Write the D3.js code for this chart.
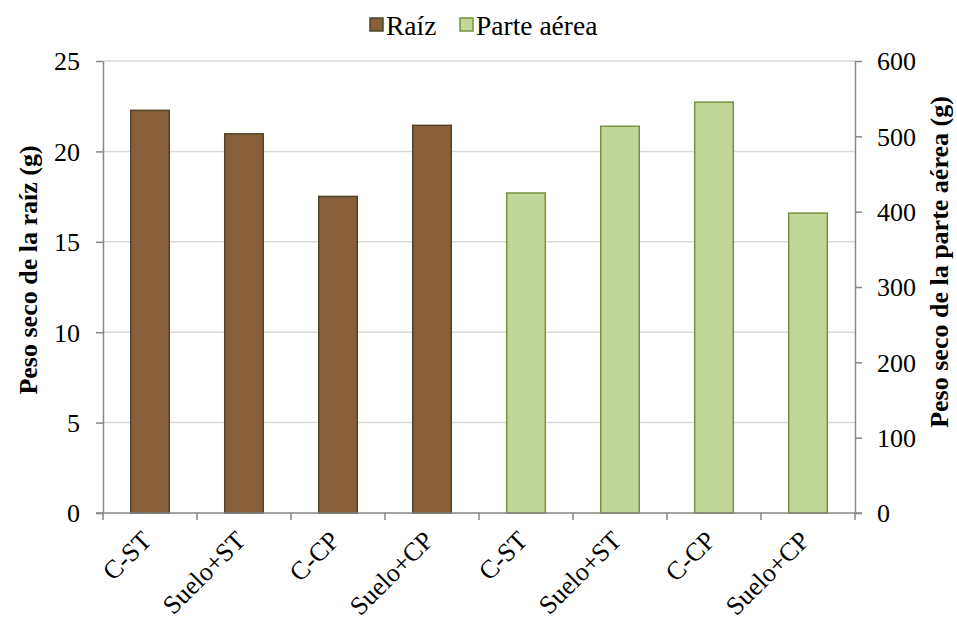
<!DOCTYPE html>
<html>
<head>
<meta charset="utf-8">
<script src="https://cdn.jsdelivr.net/npm/d3@7"></script>
</head>
<body style="margin:0; background:#fff">
<svg id="chart" width="957" height="620" style="display:block"></svg>
<script>
// Dry weight per treatment: root (left axis) and shoot (right axis)
const categories = ["C-ST", "Suelo+ST", "C-CP", "Suelo+CP", "C-ST", "Suelo+ST", "C-CP", "Suelo+CP"];
const rootValues = [22.27, 20.97, 17.51, 21.44];
const shootValues = [424.8, 513.4, 545.4, 398.1];
const leftTicks = [0, 5, 10, 15, 20, 25];
const rightTicks = [0, 100, 200, 300, 400, 500, 600];
const seriesNames = ["Raíz", "Parte aérea"];

const FONT = '"Liberation Serif"';
const FS = "26px";

const svg = d3.select("#chart").attr("font-family", "Liberation Serif").style("font-family", FONT);
const plotLeft = 103, plotRight = 855, plotTop = 61, plotBottom = 513;

const x = d3.scaleBand().domain(d3.range(categories.length)).range([plotLeft, plotRight]).paddingInner(0.59).paddingOuter(0.295);
const yL = d3.scaleLinear().domain([0, 25]).range([plotBottom, plotTop]);
const yR = d3.scaleLinear().domain([0, 600]).range([plotBottom, plotTop]);

const brown = { fill: "#87603B", stroke: "#4D4427" };
const green = { fill: "#C4D79B", stroke: "#77933C" };

// Gridlines from the left axis
svg.append("g").selectAll("line").data(leftTicks.filter(d => d > 0)).join("line")
  .attr("x1", plotLeft).attr("x2", plotRight)
  .attr("y1", d => yL(d)).attr("y2", d => yL(d))
  .attr("stroke", "#D9D9D9").attr("stroke-width", 1.5);

// Bars
const bars = rootValues.map((v, i) => ({ i, v, y: yL(v), c: brown }))
  .concat(shootValues.map((v, j) => ({ i: j + 4, v, y: yR(v), c: green })));
svg.append("g").selectAll("rect").data(bars).join("rect")
  .attr("x", d => x(d.i)).attr("width", x.bandwidth())
  .attr("y", d => d.y).attr("height", d => plotBottom - d.y)
  .attr("fill", d => d.c.fill).attr("stroke", d => d.c.stroke).attr("stroke-width", 1.5);

// Left axis
const gL = svg.append("g").attr("transform", `translate(${plotLeft},0)`)
  .call(d3.axisLeft(yL).tickValues(leftTicks).tickSize(7).tickPadding(16).tickSizeOuter(0));
// Right axis
const gR = svg.append("g").attr("transform", `translate(${plotRight},0)`)
  .call(d3.axisRight(yR).tickValues(rightTicks).tickSize(7).tickPadding(15).tickSizeOuter(0));
[gL, gR].forEach(g => {
  g.attr("font-family", "Liberation Serif").attr("font-size", 26);
  g.select(".domain").attr("stroke", "#868686").attr("stroke-width", 1.5);
  g.selectAll(".tick line").attr("stroke", "#868686").attr("stroke-width", 1.5);
  g.selectAll(".tick text").attr("fill", "#000").attr("dy", "0.34em");
});

// Bottom axis with ticks at band boundaries
const gB = svg.append("g");
gB.append("line").attr("x1", plotLeft - 7).attr("x2", plotRight + 7).attr("y1", plotBottom).attr("y2", plotBottom)
  .attr("stroke", "#868686").attr("stroke-width", 1.5);
const step = x.step();
gB.selectAll("line.tk").data(d3.range(categories.length + 1)).join("line").attr("class", "tk")
  .attr("x1", i => plotLeft + i * step).attr("x2", i => plotLeft + i * step)
  .attr("y1", plotBottom).attr("y2", plotBottom + 7)
  .attr("stroke", "#868686").attr("stroke-width", 1.5);
gB.selectAll("text").data(categories).join("text")
  .attr("transform", (d, i) => `translate(${x(i) + x.bandwidth() / 2 + 3},${plotBottom + 29}) rotate(-45)`)
  .attr("text-anchor", "end")
  .text(d => d);

// Axis titles
svg.append("text").attr("transform", `translate(37,270) rotate(-90)`)
  .attr("text-anchor", "middle").attr("font-weight", "bold")
  .text("Peso seco de la raíz (g)");
svg.append("text").attr("transform", `translate(948,262) rotate(-90)`)
  .attr("text-anchor", "middle").attr("font-weight", "bold")
  .text("Peso seco de la parte aérea (g)");

// Typeface for the axis labels
svg.selectAll("text").attr("font-family", "Liberation Serif")
  .style("font-family", FONT).style("font-size", FS);

// Legend
const legend = svg.append("g");
const legendItems = [
  { name: seriesNames[0], c: brown, x: 370 },
  { name: seriesNames[1], c: green, x: 460 }
];
legendItems.forEach(it => {
  legend.append("rect").attr("x", it.x).attr("y", 18).attr("width", 13).attr("height", 13)
    .attr("fill", it.c.fill).attr("stroke", it.c.stroke).attr("stroke-width", 1.5);
  legend.append("text").attr("x", it.x + 16).attr("y", 34.5)
    .attr("font-family", "Liberation Serif").style("font-family", FONT).style("font-size", "27.5px")
    .text(it.name);
});
</script>
</body>
</html>
